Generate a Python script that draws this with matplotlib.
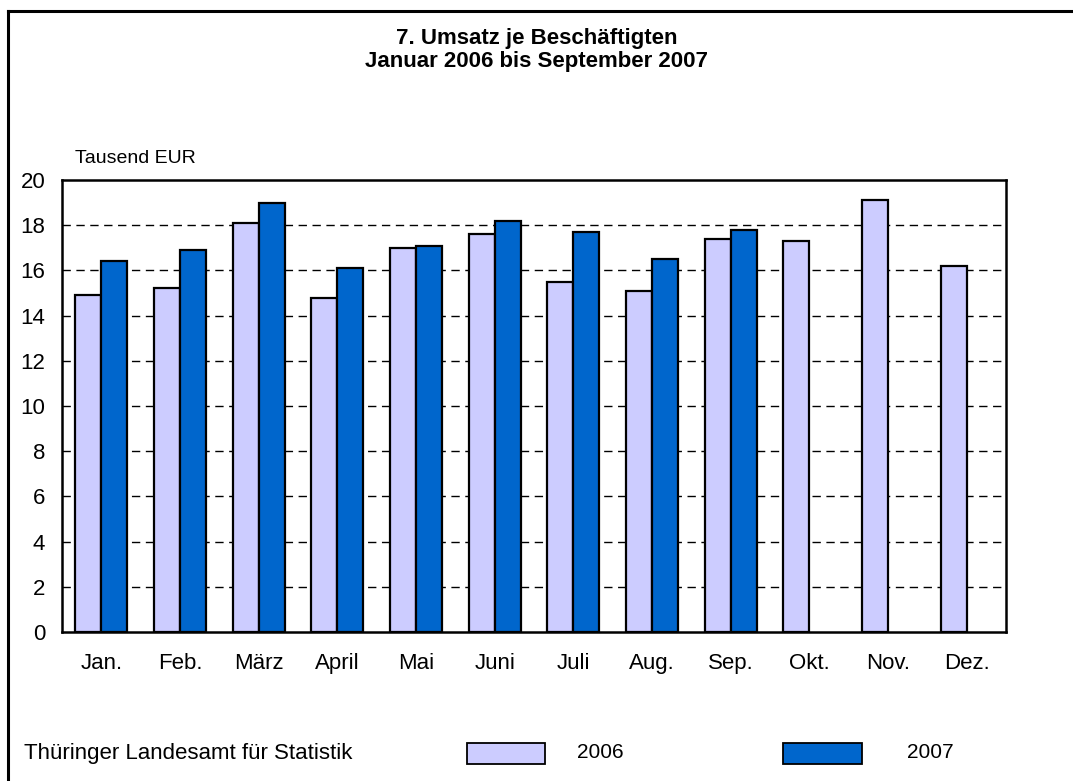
import numpy as np
import matplotlib
matplotlib.use("Agg")
import matplotlib.pyplot as plt
from matplotlib.patches import Rectangle
from matplotlib.lines import Line2D

plt.rcParams["font.family"] = ["Liberation Sans", "DejaVu Sans"]

# ── Data ─────────────────────────────────────────────────────────────────────
months = ["Jan.", "Feb.", "März", "April", "Mai", "Juni",
          "Juli", "Aug.", "Sep.", "Okt.", "Nov.", "Dez."]
values_2006 = [14.9, 15.2, 18.1, 14.8, 17.0, 17.6, 15.5, 15.1, 17.4, 17.3, 19.1, 16.2]
values_2007 = [16.4, 16.9, 19.0, 16.1, 17.1, 18.2, 17.7, 16.5, 17.8]
yticks = list(range(0, 21, 2))

C2006 = "#CCCCFF"
C2007 = "#0066CC"

W, H = 1073, 781
fig = plt.figure(figsize=(W / 100, H / 100), dpi=100)
ax = fig.add_axes([62 / W, 1 - 632 / H, 944 / W, 452 / H])

x = np.arange(len(months))
w = 0.33
ax.bar(x[:len(values_2006)] - w / 2, values_2006, width=w, color=C2006,
       edgecolor="black", linewidth=1.6, zorder=3)
ax.bar(x[:len(values_2007)] + w / 2, values_2007, width=w, color=C2007,
       edgecolor="black", linewidth=1.6, zorder=3)

ax.set_xlim(-0.5, len(months) - 0.5)
ax.set_ylim(0, 20)
ax.set_yticks(yticks)
ax.set_yticklabels([str(t) for t in yticks], fontsize=16)
ax.set_xticks(x)
ax.set_xticklabels(months, fontsize=16)
ax.tick_params(axis="both", length=0)
ax.tick_params(axis="x", pad=15)
ax.tick_params(axis="y", pad=12)
for t in yticks[1:-1]:
    ax.axhline(t, color="black", lw=1.0, ls=(0, (6, 4)), zorder=1)
for s in ax.spines.values():
    s.set_linewidth(1.8)

ax.text(13 / 944, 1 + 17 / 452, "Tausend EUR", transform=ax.transAxes,
        fontsize=14, ha="left", va="baseline")

# ── Title ────────────────────────────────────────────────────────────────────
fig.text(0.5, 1 - 44 / H, "7. Umsatz je Beschäftigten", ha="center",
         va="baseline", fontsize=16, fontweight="bold")
fig.text(0.5, 1 - 67 / H, "Januar 2006 bis September 2007", ha="center",
         va="baseline", fontsize=16, fontweight="bold")

# ── Footer / legend ──────────────────────────────────────────────────────────
fy = 1 - 753 / H
fig.text(24 / W, fy, "Thüringer Landesamt für Statistik", ha="left",
         va="center", fontsize=16)
ph = 21 / H
fig.patches.append(Rectangle((467 / W, fy - ph / 2), 78 / W, ph,
                             transform=fig.transFigure, facecolor=C2006,
                             edgecolor="black", linewidth=1.3))
fig.text(577 / W, fy, "2006", ha="left", va="center", fontsize=15)
fig.patches.append(Rectangle((783 / W, fy - ph / 2), 79 / W, ph,
                             transform=fig.transFigure, facecolor=C2007,
                             edgecolor="black", linewidth=1.3))
fig.text(907 / W, fy, "2007", ha="left", va="center", fontsize=15)

# ── Outer frame (left + top edges only) ─────────────────────────────────────
fx = 8.3 / W
ftop = 1 - 10.7 / H
fig.lines.append(Line2D([fx, fx], [0, ftop], transform=fig.transFigure,
                        color="black", lw=2.2))
fig.lines.append(Line2D([fx, 1], [ftop, ftop], transform=fig.transFigure,
                        color="black", lw=2.2))

fig.savefig("out.png", dpi=100)
